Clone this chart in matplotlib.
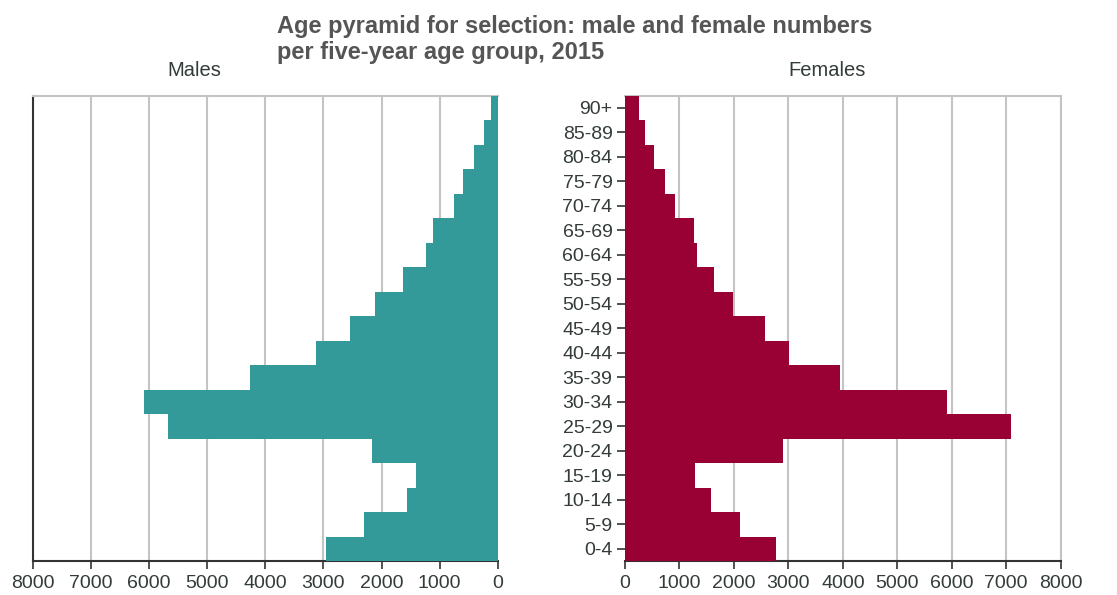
import numpy as np
import matplotlib
matplotlib.use("Agg")
import matplotlib.pyplot as plt

plt.rcParams['font.family'] = ['Liberation Sans', 'DejaVu Sans']

# age groups, bottom to top
age_groups = ['0-4', '5-9', '10-14', '15-19', '20-24', '25-29', '30-34', '35-39',
              '40-44', '45-49', '50-54', '55-59', '60-64', '65-69', '70-74',
              '75-79', '80-84', '85-89', '90+']
males = [2950, 2300, 1570, 1400, 2160, 5670, 6090, 4260, 3130, 2540,
         2120, 1630, 1230, 1120, 750, 600, 400, 230, 115]
females = [2770, 2120, 1570, 1290, 2910, 7090, 5920, 3950, 3020, 2570,
           1980, 1640, 1330, 1260, 910, 740, 540, 360, 260]
x_ticks = [0, 1000, 2000, 3000, 4000, 5000, 6000, 7000, 8000]

male_color = '#339999'
female_color = '#990033'
grid_color = '#c4c4c4'
text_color = '#333b3b'

fig = plt.figure(figsize=(11.17, 5.95), dpi=100)
ax_m = fig.add_axes([33 / 1117, 34 / 595, 464.7 / 1117, 465.3 / 595])
ax_f = fig.add_axes([625 / 1117, 34 / 595, 435.7 / 1117, 465.3 / 595])

y = np.arange(len(age_groups))

for ax, vals, col in [(ax_m, males, male_color), (ax_f, females, female_color)]:
    ax.barh(y, vals, height=1.0, color=col, zorder=3)
    ax.set_xlim(0, 8000)
    ax.set_ylim(-0.5, len(age_groups) - 0.5)
    ax.set_xticks(x_ticks)
    ax.set_xticklabels([str(t) for t in x_ticks])
    ax.xaxis.grid(True, color=grid_color, linewidth=1.5, zorder=0)
    ax.tick_params(axis='x', length=6, width=1.2, color='#333333',
                   labelsize=14, labelcolor=text_color, pad=4)
    ax.spines['bottom'].set_color('#333333')
    ax.spines['bottom'].set_linewidth(1.5)
    ax.spines['top'].set_color(grid_color)
    ax.spines['top'].set_linewidth(1.5)
    ax.set_axisbelow(True)

# males axis runs right to left
ax_m.invert_xaxis()
ax_m.set_yticks([])
ax_m.spines['left'].set_color('#333333')
ax_m.spines['left'].set_linewidth(1.5)
ax_m.spines['right'].set_visible(False)

ax_f.set_yticks(y)
ax_f.set_yticklabels(age_groups)
ax_f.tick_params(axis='y', length=6, width=1.2, color='#333333',
                 labelsize=14, labelcolor=text_color, pad=3)
ax_f.spines['left'].set_visible(False)
ax_f.spines['right'].set_color(grid_color)
ax_f.spines['right'].set_linewidth(1.5)

fig.text(277 / 1117, 1 - 15 / 595,
         'Age pyramid for selection: male and female numbers\nper five-year age group, 2015',
         ha='left', va='top', fontsize=17, fontweight='bold', color='#555555',
         linespacing=1.15)
fig.text(194 / 1117, 1 - 71 / 595, 'Males', ha='center', va='center',
         fontsize=14.5, color=text_color)
fig.text(827 / 1117, 1 - 71 / 595, 'Females', ha='center', va='center',
         fontsize=14.5, color=text_color)

fig.savefig('out.png', dpi=100)
